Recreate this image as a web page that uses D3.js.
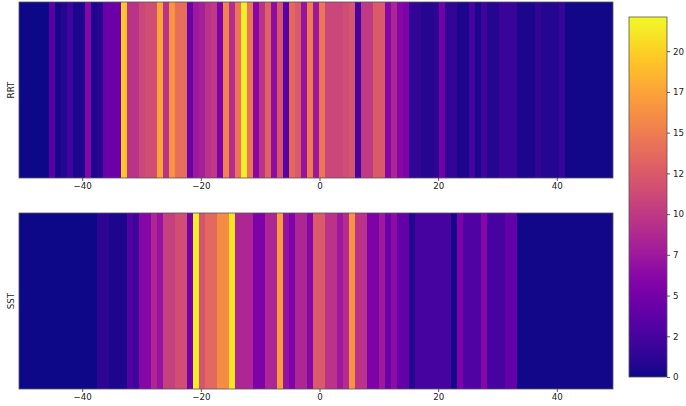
<!DOCTYPE html>
<html>
<head>
<meta charset="utf-8">
<script src="https://cdn.jsdelivr.net/npm/d3@7"></script>
<style>
  html, body { margin: 0; padding: 0; background: #fff; }
  svg { display: block; }
  text { font-family: "DejaVu Sans", sans-serif; fill: #222; }
</style>
</head>
<body>
<svg id="chart" width="686" height="406"></svg>
<script>
// ---- data ----
const seriesNames = ["RRT", "SST"];
const rrtValues = [
  0, 0, 0, 0, 0, 3.5, 0.3, 0.8, 2, 0.5,
  0.5, 6, 0.5, 1, 4.5, 4.5, 4.5, 19.5, 9.5, 9.5,
  11, 11.5, 11.5, 17.5, 9.5, 16.5, 14, 14, 4.5, 7.5,
  8, 9.5, 10, 5.5, 15.5, 9, 14.5, 21.5, 14.5, 6,
  9.5, 13, 6.5, 12, 3.5, 13.5, 12.5, 7, 15, 7.5,
  14.5, 11, 11, 11, 11.5, 12, 2.5, 10, 10, 12.5,
  12.5, 6, 8.5, 6, 5.5, 1.5, 1.5, 0.8, 0.8, 1.2,
  5, 1.5, 1.5, 0.5, 0.5, 2.5, 0.5, 2, 0.8, 0.8,
  1.8, 1.8, 1.8, 0.6, 0.6, 0.6, 1.5, 0.8, 0.8, 0.8,
  1.8, 0.2, 0.2, 0.2, 0.2, 0.2, 0.2, 0.2, 0.2
];
const sstValues = [
  0, 0, 0, 0, 0, 0, 0, 0, 0, 0,
  0, 0, 0, 1.2, 1.2, 0.5, 0.5, 0.5, 3, 2,
  6, 6, 8.5, 7, 10.5, 10.5, 11.5, 11.5, 5, 21.5,
  12, 13.5, 13.5, 16, 16, 21, 8.5, 8.5, 8.5, 5.5,
  5.5, 8.5, 8.5, 17, 7, 5.5, 8.5, 8.5, 6, 12.5,
  12.5, 9.5, 9.5, 7.5, 9, 16.5, 9.5, 9.5, 5.5, 5.5,
  7.5, 4.5, 6.5, 4, 4, 0.8, 2.5, 2.5, 2.5, 2.5,
  2.5, 2.5, 0.3, 5.5, 3, 3, 3, 6, 2.5, 2.5,
  2.5, 4, 4, 0.2, 0.2, 0.2, 0.2, 0.2, 0.2, 0.2,
  0.2, 0.2, 0.2, 0.2, 0.2, 0.2, 0.2, 0.2, 0.2
];
const xTicks = [-40, -20, 0, 20, 40];
const colorTicks = [0, 2.5, 5, 7.5, 10, 12.5, 15, 17.5, 20];
const colorTickLabels = ["0", "2", "5", "7", "10", "12", "15", "17", "20"];
const xExtent = [-50.65, 49.47];
const colorMax = 22.1;

// ---- layout ----
const svg = d3.select("#chart");
const plotLeft = 19, plotRight = 613;
const panels = [
  { name: seriesNames[0], values: rrtValues, top: 2, bottom: 178 },
  { name: seriesNames[1], values: sstValues, top: 213, bottom: 389 }
];
const fontSize = 8.7;

const x = d3.scaleLinear().domain(xExtent).range([plotLeft, plotRight]);
const color = d3.scaleSequential(d3.interpolatePlasma).domain([0, colorMax]);

panels.forEach(p => {
  const n = p.values.length;
  const edge = d3.scaleLinear().domain([0, n]).range(xExtent);
  const g = svg.append("g");
  g.selectAll("rect.cell")
    .data(p.values)
    .join("rect")
    .attr("class", "cell")
    .attr("x", (d, i) => x(edge(i)))
    .attr("width", (d, i) => x(edge(i + 1)) - x(edge(i)) + 0.4)
    .attr("y", p.top)
    .attr("height", p.bottom - p.top)
    .attr("fill", d => color(d))
    .attr("shape-rendering", "crispEdges");

  g.append("rect")
    .attr("x", plotLeft).attr("y", p.top)
    .attr("width", plotRight - plotLeft).attr("height", p.bottom - p.top)
    .attr("fill", "none").attr("stroke", "#555").attr("stroke-width", 0.8);

  const axis = d3.axisBottom(x).tickValues(xTicks).tickSize(3).tickPadding(2)
    .tickFormat(d => d < 0 ? "\u2212" + Math.abs(d) : String(d));
  const ax = svg.append("g").attr("transform", `translate(0,${p.bottom})`).call(axis);
  ax.select(".domain").remove();
  ax.selectAll(".tick line").attr("stroke", "#333").attr("stroke-width", 0.8);
  ax.selectAll(".tick text").attr("font-size", fontSize).attr("fill", "#222")
    .attr("font-family", "DejaVu Sans, sans-serif");

  svg.append("text")
    .attr("transform", `translate(14,${(p.top + p.bottom) / 2}) rotate(-90)`)
    .attr("text-anchor", "middle")
    .attr("font-size", fontSize)
    .text(p.name);
});

// ---- colorbar ----
const cbLeft = 629, cbRight = 667, cbTop = 17, cbBottom = 377;
const cy = d3.scaleLinear().domain([0, colorMax]).range([cbBottom, cbTop]);
const defs = svg.append("defs");
const grad = defs.append("linearGradient").attr("id", "cbgrad")
  .attr("x1", 0).attr("y1", 1).attr("x2", 0).attr("y2", 0);
d3.range(0, 1.0001, 0.02).forEach(t => {
  grad.append("stop").attr("offset", t).attr("stop-color", d3.interpolatePlasma(t));
});
svg.append("rect")
  .attr("x", cbLeft).attr("y", cy(colorMax))
  .attr("width", cbRight - cbLeft).attr("height", cy(0) - cy(colorMax))
  .attr("fill", "url(#cbgrad)")
  .attr("stroke", "#555").attr("stroke-width", 0.8);

const cbAxis = d3.axisRight(cy).tickValues(colorTicks).tickSize(3).tickPadding(3)
  .tickFormat((d, i) => colorTickLabels[i]);
const cba = svg.append("g").attr("transform", `translate(${cbRight},0)`).call(cbAxis);
cba.select(".domain").remove();
cba.selectAll(".tick line").attr("stroke", "#333").attr("stroke-width", 0.8);
cba.selectAll(".tick text").attr("font-size", fontSize).attr("fill", "#222")
  .attr("font-family", "DejaVu Sans, sans-serif");
</script>
</body>
</html>
